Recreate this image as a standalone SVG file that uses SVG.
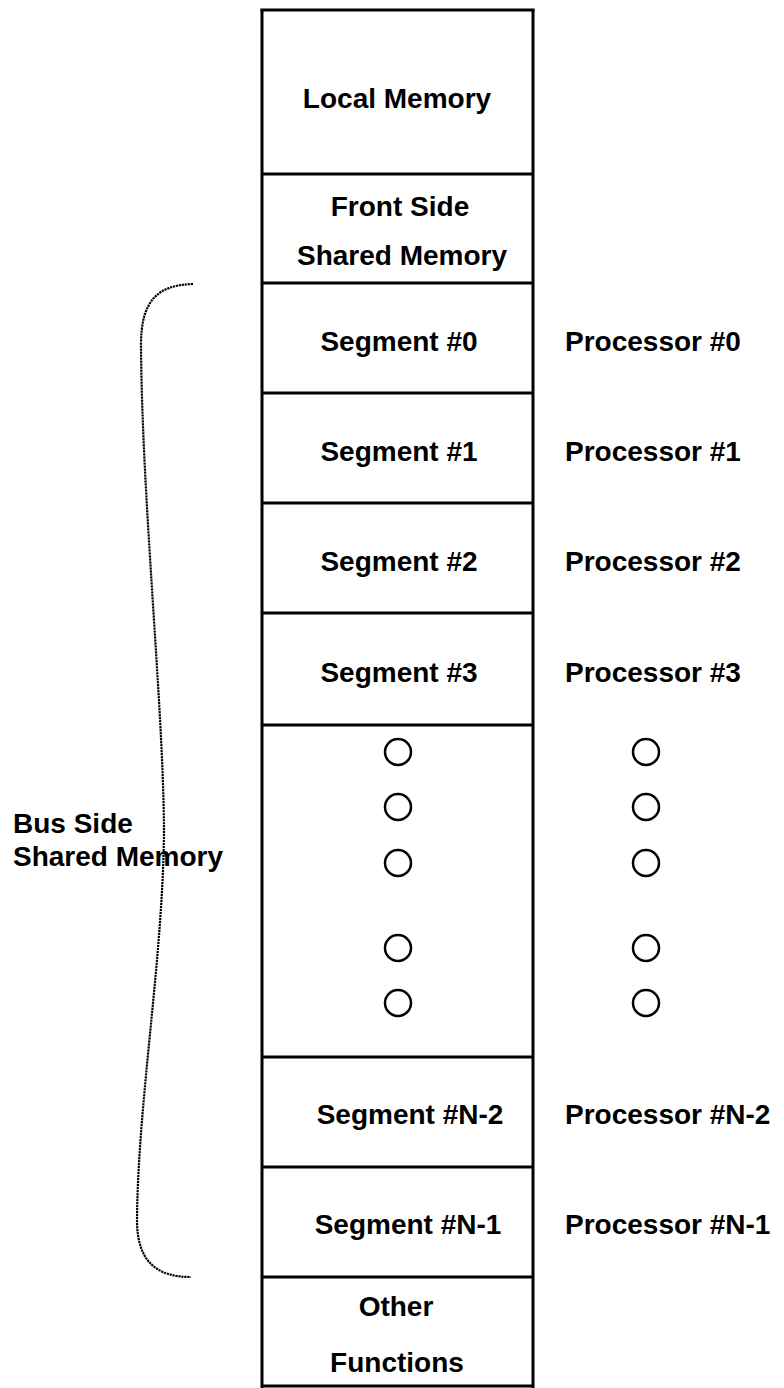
<svg xmlns="http://www.w3.org/2000/svg" width="784" height="1388" viewBox="0 0 784 1388">
  <style>
    .t { font-family: "Liberation Sans", Arial, Helvetica, sans-serif; font-weight: bold; font-size: 28px; fill: #000; }
    .c { text-anchor: middle; }
    .frame { fill: none; stroke: #000; stroke-width: 3; }
    .div { stroke: #000; stroke-width: 3; }
    .dot { fill: none; stroke: #000; stroke-width: 2.5; }
    .brace { fill: none; stroke: #000; stroke-width: 2.2; stroke-dasharray: 2.2 0.8; }
  </style>
  <rect width="784" height="1388" fill="#fff"/>

  <g id="memory-column">
    <line class="div" x1="262" y1="9" x2="262" y2="1388"/>
    <line class="div" x1="533" y1="9" x2="533" y2="1388"/>
    <line class="div" x1="260.5" y1="10" x2="534.5" y2="10"/>
    <line class="div" x1="262" y1="1386" x2="533" y2="1386"/>
  </g>

  <g id="local-memory">
    <line class="div" x1="262" y1="174" x2="533" y2="174"/>
    <text class="t c" x="397" y="108">Local Memory</text>
  </g>

  <g id="front-side-shared-memory">
    <line class="div" x1="262" y1="283" x2="533" y2="283"/>
    <text class="t c" x="400" y="216">Front Side</text>
    <text class="t c" x="402" y="265">Shared Memory</text>
  </g>

  <g id="segment-0">
    <line class="div" x1="262" y1="393" x2="533" y2="393"/>
    <text class="t c" x="399" y="351">Segment #0</text>
  </g>
  <g id="processor-0"><text class="t" x="565" y="351">Processor #0</text></g>

  <g id="segment-1">
    <line class="div" x1="262" y1="503" x2="533" y2="503"/>
    <text class="t c" x="399" y="461">Segment #1</text>
  </g>
  <g id="processor-1"><text class="t" x="565" y="461">Processor #1</text></g>

  <g id="segment-2">
    <line class="div" x1="262" y1="613" x2="533" y2="613"/>
    <text class="t c" x="399" y="571">Segment #2</text>
  </g>
  <g id="processor-2"><text class="t" x="565" y="571">Processor #2</text></g>

  <g id="segment-3">
    <line class="div" x1="262" y1="725" x2="533" y2="725"/>
    <text class="t c" x="399" y="682">Segment #3</text>
  </g>
  <g id="processor-3"><text class="t" x="565" y="682">Processor #3</text></g>

  <g id="ellipsis-segments">
    <circle class="dot" cx="398" cy="752" r="13"/>
    <circle class="dot" cx="398" cy="807" r="13"/>
    <circle class="dot" cx="398" cy="863" r="13"/>
    <circle class="dot" cx="398" cy="948" r="13"/>
    <circle class="dot" cx="398" cy="1003" r="13"/>
    <line class="div" x1="262" y1="1057" x2="533" y2="1057"/>
  </g>
  <g id="ellipsis-processors">
    <circle class="dot" cx="646" cy="752" r="13"/>
    <circle class="dot" cx="646" cy="807" r="13"/>
    <circle class="dot" cx="646" cy="863" r="13"/>
    <circle class="dot" cx="646" cy="948" r="13"/>
    <circle class="dot" cx="646" cy="1003" r="13"/>
  </g>

  <g id="segment-n-2">
    <line class="div" x1="262" y1="1167" x2="533" y2="1167"/>
    <text class="t c" x="410" y="1124">Segment #N-2</text>
  </g>
  <g id="processor-n-2"><text class="t" x="565" y="1124">Processor #N-2</text></g>

  <g id="segment-n-1">
    <line class="div" x1="262" y1="1277" x2="533" y2="1277"/>
    <text class="t c" x="408" y="1234">Segment #N-1</text>
  </g>
  <g id="processor-n-1"><text class="t" x="565" y="1234">Processor #N-1</text></g>

  <g id="other-functions">
    <text class="t c" x="396" y="1316">Other</text>
    <text class="t c" x="397" y="1372">Functions</text>
  </g>

  <g id="bus-side-label">
    <text class="t" x="13" y="833">Bus Side</text>
    <text class="t" x="13" y="866">Shared Memory</text>
  </g>

  <g id="connectors">
    <path class="brace" d="M193,284 C158,285 141,300 141,345 C142,500 163,700 164,830 C163,960 138,1100 137,1220 C137,1260 155,1277 191,1277"/>
  </g>
</svg>
